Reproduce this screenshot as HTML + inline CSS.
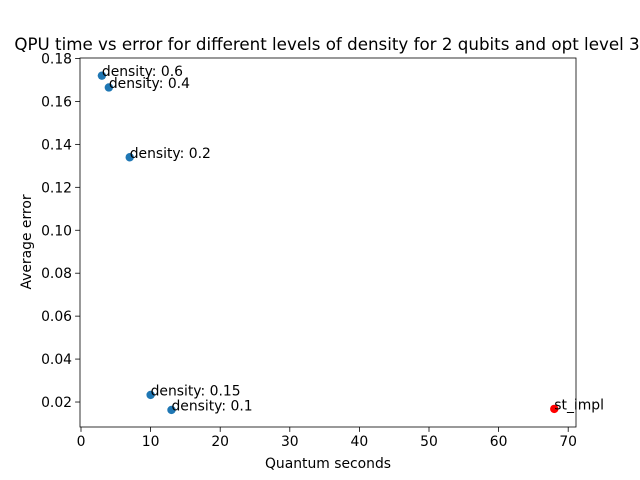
<!DOCTYPE html>
<html><head><meta charset="utf-8"><style>
body{margin:0;background:#fff;}
svg{display:block;font-family:"DejaVu Sans","Liberation Sans",sans-serif;}
</style></head><body>
<svg id="chart" width="640" height="480">
<rect width="640" height="480" fill="#fff"/>
<g id="g"></g>
</svg>
<script>
const xVals=[3,4,7,10,13];
const yVals=[0.172,0.1665,0.134,0.0233,0.0163];
const labels=["density: 0.6","density: 0.4","density: 0.2","density: 0.15","density: 0.1"];
const refX=[68];
const refY=[0.0168];
const refLabels=["st_impl"];
const xTicks=[0,10,20,30,40,50,60,70];
const yTicks=[0.02,0.04,0.06,0.08,0.10,0.12,0.14,0.16,0.18];
const L=80,R=576,T=58,B=427;
const sx=v=>81+v*6.96;
const sy=v=>58.5+(0.18-v)*2147;
const ns="http://www.w3.org/2000/svg";
const g=document.getElementById('g');
function mk(t,a,txt){const e=document.createElementNS(ns,t);for(const k in a)e.setAttribute(k,a[k]);if(txt!==undefined)e.textContent=txt;g.appendChild(e);return e;}
xTicks.forEach(t=>{const x=sx(t);
const l=mk('line',{x1:x,x2:x,y1:B,y2:B+4.9,stroke:'#000','stroke-width':0.8});

const s=mk('text',{x:x,y:B+19,'font-size':13.9,'text-anchor':'middle'},String(t));
});
yTicks.forEach(t=>{const y=sy(t);
const l=mk('line',{x1:L-4.9,x2:L,y1:y,y2:y,stroke:'#000','stroke-width':0.8});

const s=mk('text',{x:L-8,y:y+5,'font-size':13.9,'text-anchor':'end'},t.toFixed(2));
});
xVals.forEach((v,i)=>{
const c=mk('circle',{cx:sx(v),cy:sy(yVals[i]),r:4.2,fill:'#1f77b4'});

const s=mk('text',{x:sx(v),y:sy(yVals[i])+0.5,'font-size':13.9},labels[i]);
});
refX.forEach((v,i)=>{
const c=mk('circle',{cx:sx(v),cy:sy(refY[i]),r:4.2,fill:'#ff0000'});

const s=mk('text',{x:sx(v),y:sy(refY[i])+0.5,'font-size':13.9},refLabels[i]);
});
const f=mk('rect',{x:L,y:T,width:R-L,height:B-T,fill:'none',stroke:'#000','stroke-width':0.8});

const tt=mk('text',{x:327,y:50,'font-size':16.7,'text-anchor':'middle'},'QPU time vs error for different levels of density for 2 qubits and opt level 3');

const xt=mk('text',{x:328,y:468,'font-size':13.9,'text-anchor':'middle'},'Quantum seconds');

const yt=mk('text',{x:31,y:242,'font-size':13.9,'text-anchor':'middle',transform:'rotate(-90 31 242)'},'Average error');

</script>
</body></html>
